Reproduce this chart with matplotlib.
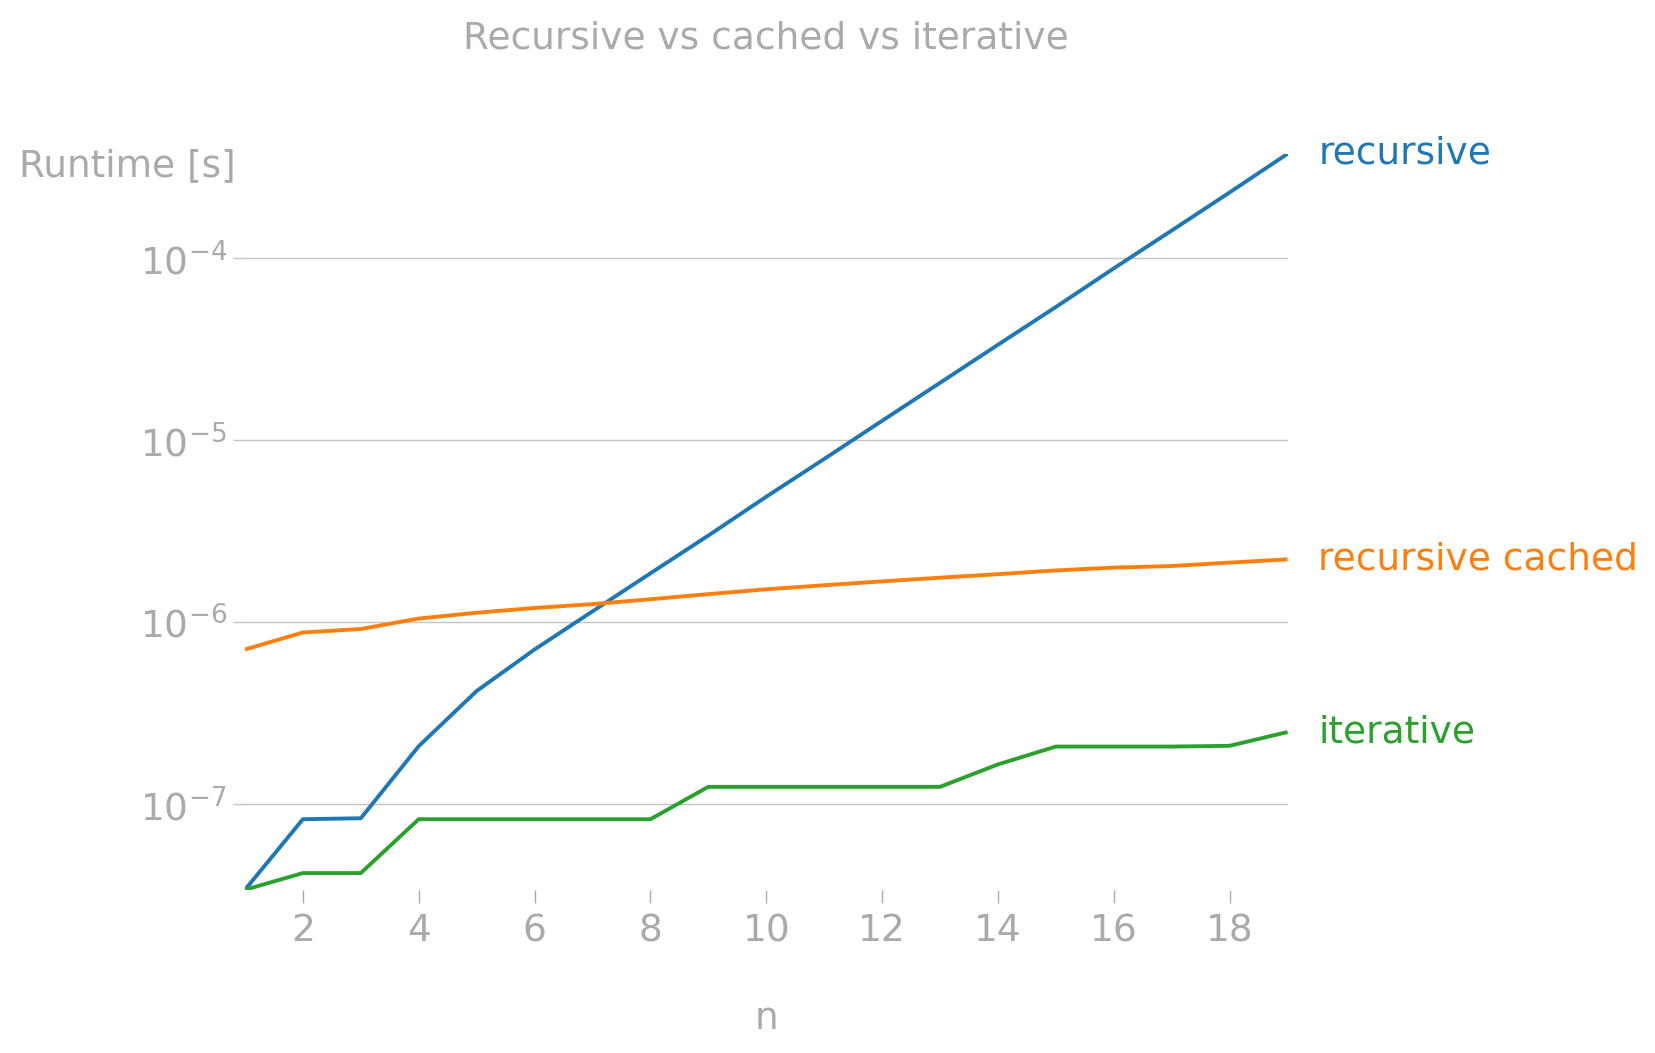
import numpy as np
import matplotlib
matplotlib.use('Agg')
import matplotlib.pyplot as plt

n = list(range(1, 20))
recursive = [3.4e-8, 8.3e-8, 8.4e-8, 2.09e-7, 4.2e-7, 7.1e-7, 1.15e-6, 1.86e-6,
             3.0e-6, 4.9e-6, 7.9e-6, 1.28e-5, 2.07e-5, 3.35e-5, 5.4e-5, 8.8e-5,
             1.42e-4, 2.3e-4, 3.75e-4]
cached = [7.1e-7, 8.8e-7, 9.2e-7, 1.05e-6, 1.13e-6, 1.2e-6, 1.26e-6, 1.34e-6,
          1.43e-6, 1.52e-6, 1.60e-6, 1.68e-6, 1.76e-6, 1.84e-6, 1.93e-6, 2.0e-6,
          2.04e-6, 2.13e-6, 2.22e-6]
iterative = [3.4e-8, 4.2e-8, 4.2e-8, 8.3e-8, 8.3e-8, 8.3e-8, 8.3e-8, 8.3e-8,
             1.25e-7, 1.25e-7, 1.25e-7, 1.25e-7, 1.25e-7, 1.66e-7, 2.08e-7, 2.08e-7,
             2.08e-7, 2.1e-7, 2.5e-7]
series = [('recursive', recursive, '#1f77b4'),
          ('recursive cached', cached, '#ff7f0e'),
          ('iterative', iterative, '#2ca02c')]

grey = '#aaaaaa'
fs = 27

fig = plt.figure(figsize=(16.55, 10.53), dpi=100)
ax = fig.add_axes([0.148, 0.155, 0.63, 0.699])

for name, vals, col in series:
    ax.plot(n, vals, color=col, lw=2.8, solid_capstyle='butt')
    ax.annotate(name, xy=(n[-1], vals[-1]), xytext=(22, 0), textcoords='offset points',
                color=col, fontsize=fs, va='center', ha='left',
                annotation_clip=False)

ax.set_yscale('log')
ax.set_xlim(1, 19)
ax.set_ylim(min(recursive), max(recursive))
ax.set_xticks(range(2, 20, 2))
ax.set_yticks([1e-7, 1e-6, 1e-5, 1e-4])
ax.minorticks_off()
ax.grid(axis='y', color='#c4c4c4', lw=1)
ax.set_axisbelow(True)
for s in ax.spines.values():
    s.set_visible(False)
ax.tick_params(axis='both', colors=grey, labelsize=fs, length=9, width=1, pad=8)
ax.tick_params(axis='y', colors='#c4c4c4', labelcolor=grey, pad=4)
ax.tick_params(axis='x', direction='out')

ax.set_title('Recursive vs cached vs iterative', color=grey, fontsize=fs, pad=76)
ax.set_xlabel('n', color=grey, fontsize=fs, labelpad=37)
fig.text(0.0115, 0.842, 'Runtime [s]', color=grey, fontsize=fs, va='center', ha='left')

fig.savefig('out.png', dpi=100)
